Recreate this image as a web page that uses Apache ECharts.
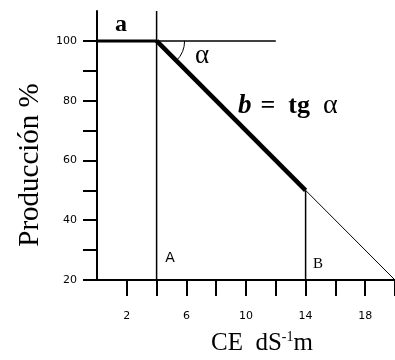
<!DOCTYPE html>
<html>
<head>
<meta charset="utf-8">
<script src="https://cdn.jsdelivr.net/npm/echarts@6/dist/echarts.min.js"></script>
<style>
  html, body { margin: 0; padding: 0; background: #fff; }
  #chart { width: 395px; height: 360px; }
</style>
</head>
<body>
<div id="chart"></div>
<script>
// axis ticks and labels
const xTicks = [2, 4, 6, 8, 10, 12, 14, 16, 18, 20]
const xLabels = [2, 6, 10, 14, 18]
const yTicks = [20, 30, 40, 50, 60, 70, 80, 90, 100]
const yLabels = [20, 40, 60, 80, 100]

// production response segments (CE, %)
const plateau = [[0, 100], [4, 100]]
const decline = [[4, 100], [14, 50]]
const extension = [[14, 50], [20, 20]]
const refLevel = [[4, 100], [12, 100]]
const thresholdA = [[4, 20], [4, 110]]
const thresholdB = [[14, 20], [14, 50]]
const anglePoint = [[4, 100]]

const chart = echarts.init(document.getElementById('chart'))

function seg(data, width) {
  return {
    type: 'line',
    data,
    symbol: 'none',
    silent: true,
    lineStyle: { color: '#000', width },
  }
}

chart.setOption({
  animation: false,
  grid: { left: 97, top: 11, width: 299, height: 269 },
  xAxis: {
    type: 'value',
    min: 0,
    max: 20,
    interval: 2,
    axisLine: { lineStyle: { color: '#000', width: 2 } },
    axisTick: { customValues: xTicks, length: 16, lineStyle: { color: '#000', width: 2 } },
    axisLabel: {
      customValues: xLabels,
      margin: 31,
      color: '#000',
      fontFamily: 'DejaVu Sans',
      fontSize: 11,
    },
    splitLine: { show: false },
  },
  yAxis: {
    type: 'value',
    min: 20,
    max: 110,
    interval: 10,
    axisLine: { show: true, lineStyle: { color: '#000', width: 2 } },
    axisTick: { show: true, customValues: yTicks, length: 14, lineStyle: { color: '#000', width: 2 } },
    axisLabel: {
      customValues: yLabels,
      margin: 20,
      color: '#000',
      fontFamily: 'DejaVu Sans',
      fontSize: 11,
    },
    splitLine: { show: false },
  },
  graphic: [
    {
      type: 'text',
      x: 30,
      y: 165,
      rotation: Math.PI / 2,
      style: {
        text: 'Producción %',
        font: '29px "Liberation Serif"',
        fill: '#000',
        align: 'center',
        verticalAlign: 'middle',
      },
    },
    {
      type: 'text',
      x: 262,
      y: 343,
      style: {
        text: '{n|CE  dS}{s|-1}{n|m}',
        fill: '#000',
        align: 'center',
        verticalAlign: 'middle',
        rich: {
          n: { font: '25px "Liberation Serif"', fill: '#000' },
          s: { font: '14px "Liberation Serif"', fill: '#000', verticalAlign: 'top', padding: [0, 0, 10, 0] },
        },
      },
    },
    {
      type: 'text', x: 121, y: 25,
      style: { text: 'a', font: 'bold 24px "Liberation Serif"', fill: '#000', align: 'center', verticalAlign: 'middle' },
    },
    {
      type: 'text', x: 202, y: 56,
      style: { text: 'α', font: '27px "Liberation Serif"', fill: '#000', align: 'center', verticalAlign: 'middle' },
    },
    {
      type: 'text', x: 238, y: 106,
      style: {
        text: '{b|b}{e|=  tg  }{a|α}',
        verticalAlign: 'middle',
        rich: {
          b: { font: 'italic bold 27px "Liberation Serif"', fill: '#000' },
          e: { font: 'bold 26px "Liberation Serif"', fill: '#000', padding: [0, 0, 0, 9] },
          a: { font: '28px "Liberation Serif"', fill: '#000' },
        },
      },
    },
    {
      type: 'text', x: 170, y: 258,
      style: { text: 'A', font: '14px "DejaVu Sans"', fill: '#000', align: 'center', verticalAlign: 'middle' },
    },
    {
      type: 'text', x: 318, y: 264,
      style: { text: 'B', font: '15px "Liberation Serif"', fill: '#000', align: 'center', verticalAlign: 'middle' },
    },
  ],
  series: [
    seg(thresholdA, 1.5),
    seg(thresholdB, 1.5),
    seg(refLevel, 1.5),
    seg(extension, 1),
    seg(plateau, 3),
    seg(decline, 4.5),
    {
      type: 'custom',
      silent: true,
      data: anglePoint,
      renderItem: (params, api) => {
        const p = api.coord([api.value(0), api.value(1)])
        return {
          type: 'arc',
          shape: { cx: p[0], cy: p[1], r: 28, startAngle: 0, endAngle: Math.PI / 4, clockwise: true },
          style: { stroke: '#000', lineWidth: 1, fill: null },
        }
      },
    },
  ],
})
</script>
</body>
</html>
